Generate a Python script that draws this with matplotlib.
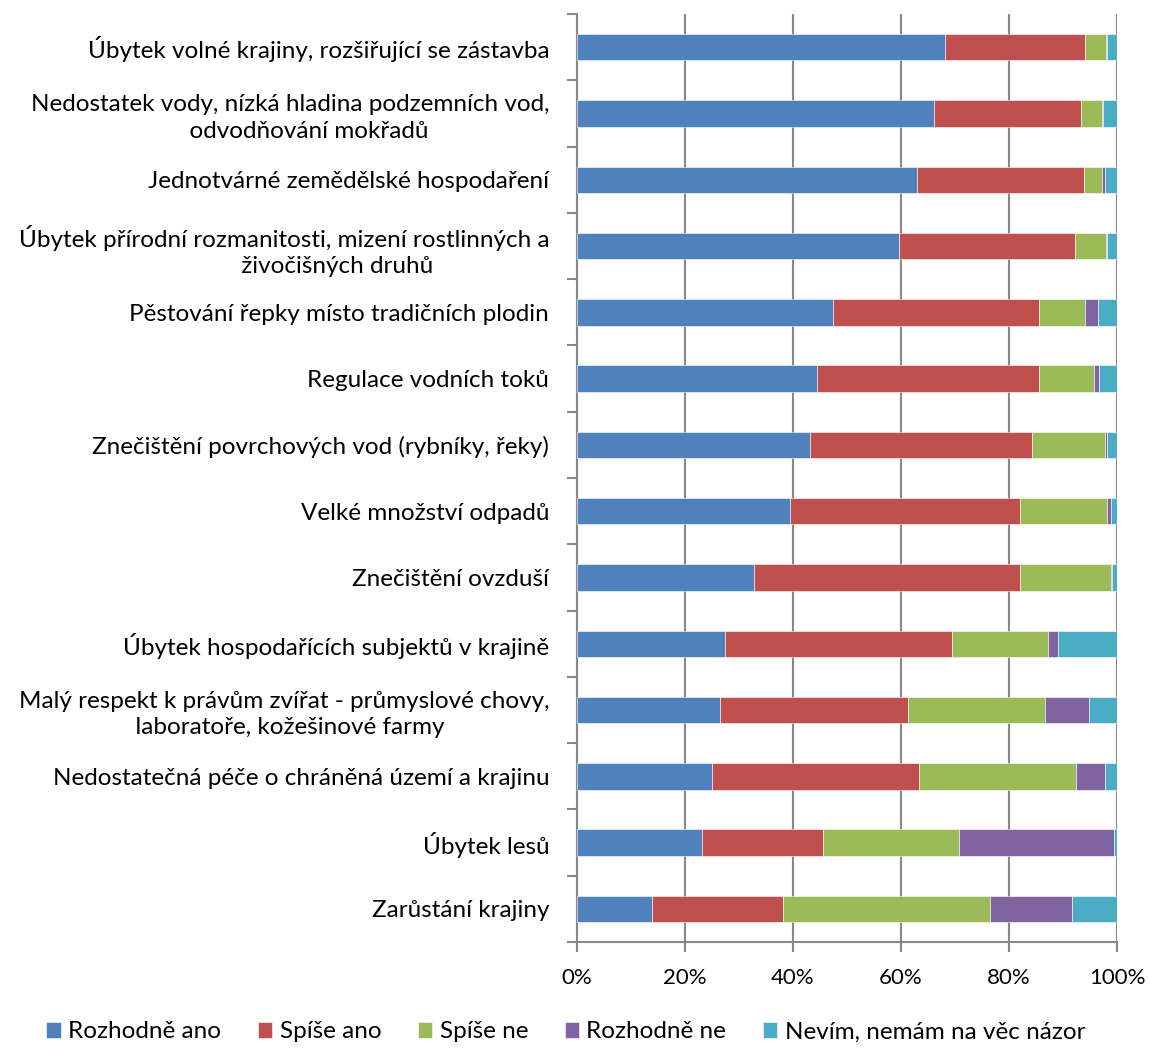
import numpy as np
import matplotlib.pyplot as plt

plt.rcParams['font.family'] = ['Lato', 'DejaVu Sans']

categories = [
    "Úbytek volné krajiny, rozšiřující se zástavba",
    "Nedostatek vody, nízká hladina podzemních vod,\n" + " " * 6 + "odvodňování mokřadů",
    "Jednotvárné zemědělské hospodaření",
    "Úbytek přírodní rozmanitosti, mizení rostlinných a\n" + " " * 17 + "živočišných druhů",
    "Pěstování řepky místo tradičních plodin",
    "Regulace vodních toků",
    "Znečištění povrchových vod (rybníky, řeky)",
    "Velké množství odpadů",
    "Znečištění ovzduší",
    "Úbytek hospodařících subjektů v krajině",
    "Malý respekt k právům zvířat - průmyslové chovy,\n" + " " * 2 + "laboratoře, kožešinové farmy",
    "Nedostatečná péče o chráněná území a krajinu",
    "Úbytek lesů",
    "Zarůstání krajiny",
]

series = ["Rozhodně ano", "Spíše ano", "Spíše ne", "Rozhodně ne", "Nevím, nemám na věc názor"]
colors = ["#4F81BD", "#C0504D", "#9BBB59", "#8064A2", "#4BACC6"]

rozhodne_ano = [68.2, 66.2, 63.0, 59.6, 47.5, 44.4, 43.1, 39.5, 32.8, 27.4, 26.4, 25.0, 23.2, 13.9]
spise_ano = [25.9, 27.1, 30.8, 32.6, 38.0, 41.1, 41.1, 42.6, 49.2, 42.1, 34.9, 38.4, 22.3, 24.3]
spise_ne = [3.8, 4.0, 3.5, 5.7, 8.5, 10.2, 13.5, 16.0, 16.8, 17.7, 25.3, 29.0, 25.3, 38.2]
rozhodne_ne = [0.3, 0.2, 0.5, 0.2, 2.4, 0.9, 0.4, 0.7, 0.2, 1.9, 8.3, 5.4, 28.6, 15.3]
nevim = [1.8, 2.5, 2.2, 1.9, 3.6, 3.4, 1.9, 1.2, 1.0, 10.9, 5.1, 2.2, 0.6, 8.3]

data = np.array([rozhodne_ano, spise_ano, spise_ne, rozhodne_ne, nevim])
data = data / data.sum(axis=0) * 100

fig = plt.figure(figsize=(11.5, 10.48), dpi=100)
ax = fig.add_axes([0.5017, 0.1011, 0.4696, 0.8855])

y = np.arange(len(categories))
left = np.zeros(len(categories))
for vals, name, c in zip(data, series, colors):
    ax.barh(y, vals, left=left, height=0.4, color=c, label=name,
            edgecolor="white", linewidth=0.4, zorder=3)
    left += vals

ax.set_xlim(0, 100)
ax.set_ylim(len(categories) - 0.5, -0.5)
ax.set_xticks(np.arange(0, 101, 20))
ax.set_xticklabels([f"{v}%" for v in range(0, 101, 20)], fontsize=16)
ax.set_yticks(y)
ax.set_yticklabels(categories, fontsize=17.5, multialignment="center", linespacing=1.3)
ax.set_yticks(np.arange(-0.5, len(categories), 1), minor=True)
ax.tick_params(axis="y", which="major", length=0, pad=20)
ax.tick_params(axis="y", which="minor", length=7, width=1.5, color="#888888", direction="out")
ax.tick_params(axis="x", length=7, width=1.5, color="#888888", pad=12)

ax.grid(axis="x", color="#888888", linewidth=1.5, zorder=0)
for s in ["top", "right"]:
    ax.spines[s].set_visible(False)
for s in ["left", "bottom"]:
    ax.spines[s].set_color("#888888")
    ax.spines[s].set_linewidth(1.5)

fig.legend(loc="center", bbox_to_anchor=(0.492, 0.0153), ncol=5, frameon=False,
           fontsize=17.5, handlelength=0.6, handleheight=0.6, handletextpad=0.3,
           columnspacing=1.5, borderpad=0)

plt.savefig("out.png", dpi=100)
